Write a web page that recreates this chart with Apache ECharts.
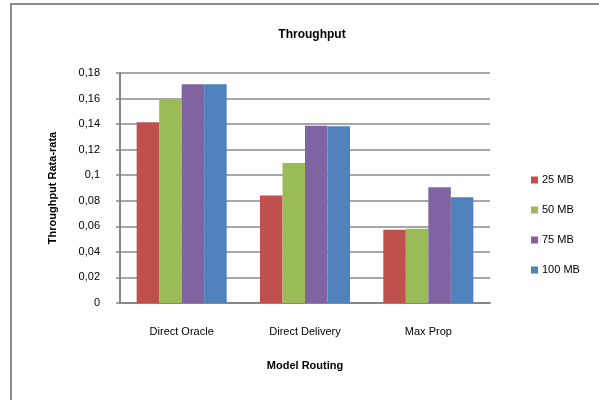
<!DOCTYPE html>
<html>
<head>
<meta charset="utf-8">
<script src="https://cdn.jsdelivr.net/npm/echarts@6/dist/echarts.min.js"></script>
<style>
  html, body { margin: 0; padding: 0; background: #fff; }
  #chart { width: 599px; height: 400px; }
</style>
</head>
<body>
<div id="chart"></div>
<script>
// Routing models on the x axis
const categories = ['Direct Oracle', 'Direct Delivery', 'Max Prop'];

// Average throughput per message size
const seriesNames = ['25 MB', '50 MB', '75 MB', '100 MB'];
const mb25 = [0.1414, 0.0842, 0.0574];
const mb50 = [0.1597, 0.1096, 0.0582];
const mb75 = [0.1711, 0.1388, 0.0905];
const mb100 = [0.1711, 0.1383, 0.0827];
const seriesValues = [mb25, mb50, mb75, mb100];
const seriesColors = ['#C0504D', '#9BBB59', '#8064A2', '#4F81BD'];

// Value axis range
const yMin = 0;
const yMax = 0.18;
const yStep = 0.02;

const font = '"Liberation Sans", "DejaVu Sans", sans-serif';
const chart = echarts.init(document.getElementById('chart'), null, { renderer: 'canvas' });

chart.setOption({
  animation: false,
  backgroundColor: '#fff',
  textStyle: { fontFamily: font },
  graphic: [{
    type: 'rect',
    shape: { x: 11, y: 4, width: 700, height: 500 },
    style: { fill: 'none', stroke: '#8c8c8c', lineWidth: 2 },
    silent: true
  }],
  title: {
    text: 'Throughput',
    left: 307,
    textAlign: 'center',
    top: 24,
    textStyle: { fontFamily: font, fontSize: 12, fontWeight: 'bold', color: '#000' }
  },
  legend: {
    orient: 'vertical',
    left: 526,
    top: 169,
    itemWidth: 7,
    itemHeight: 7,
    itemGap: 18,
    icon: 'rect',
    data: seriesNames,
    textStyle: { fontFamily: font, fontSize: 11, color: '#000', lineHeight: 12, padding: [0, 0, 0, -1] }
  },
  grid: { left: 120, right: 109, top: 73, bottom: 97, containLabel: false },
  xAxis: {
    type: 'category',
    data: categories,
    name: 'Model Routing',
    nameLocation: 'middle',
    nameGap: 57,
    nameTextStyle: { fontFamily: font, fontSize: 11, fontWeight: 'bold', color: '#000' },
    axisLine: { lineStyle: { color: '#868686', width: 2 } },
    axisTick: { show: false },
    axisLabel: { fontFamily: font, fontSize: 11, color: '#000', margin: 23 }
  },
  yAxis: {
    type: 'value',
    min: yMin,
    max: yMax,
    interval: yStep,
    name: 'Throughput Rata-rata',
    nameLocation: 'middle',
    nameGap: 62,
    nameTextStyle: { fontFamily: font, fontSize: 11, fontWeight: 'bold', color: '#000' },
    axisLine: { show: true, lineStyle: { color: '#868686', width: 2 } },
    axisTick: { show: true, length: 4, inside: false, lineStyle: { color: '#868686', width: 1.5 } },
    splitLine: { show: true, lineStyle: { color: '#8a8a8a', width: 1.5 } },
    axisLabel: {
      fontFamily: font,
      fontSize: 11,
      color: '#000',
      margin: 20,
      formatter: v => String(Number(v.toFixed(2))).replace('.', ',')
    }
  },
  series: seriesNames.map((name, i) => ({
    name,
    type: 'bar',
    data: seriesValues[i],
    barGap: '0%',
    barCategoryGap: '27%',
    itemStyle: { color: seriesColors[i] }
  }))
});
</script>
</body>
</html>
